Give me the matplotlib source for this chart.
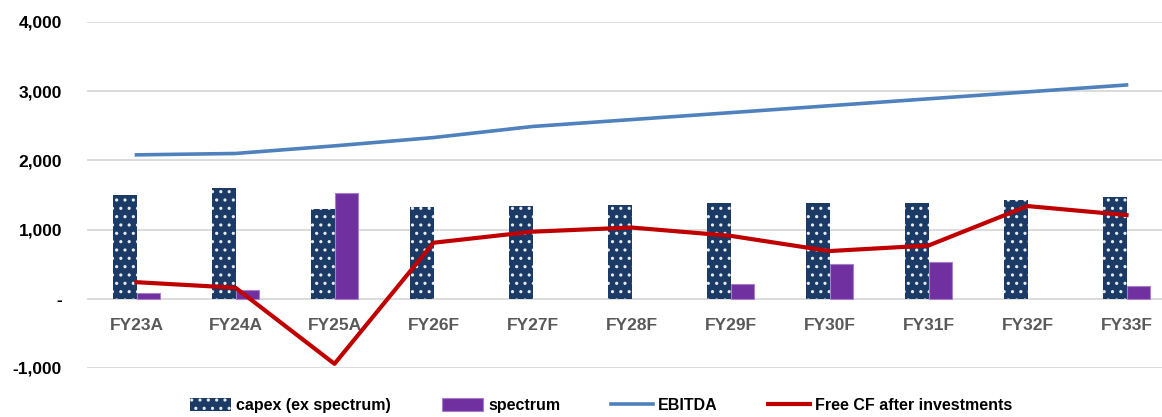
import numpy as np
import matplotlib
matplotlib.use("Agg")
import matplotlib.pyplot as plt
from matplotlib.ticker import FuncFormatter

plt.rcParams['font.family'] = ['Liberation Sans', 'DejaVu Sans']
plt.rcParams['font.weight'] = 'bold'
plt.rcParams['hatch.linewidth'] = 1.1

years = ['FY23A', 'FY24A', 'FY25A', 'FY26F', 'FY27F', 'FY28F',
         'FY29F', 'FY30F', 'FY31F', 'FY32F', 'FY33F']
capex = [1500, 1600, 1300, 1320, 1340, 1360, 1380, 1380, 1380, 1430, 1470]
spectrum = [90, 130, 1530, 0, 0, 0, 210, 500, 530, 0, 190]
ebitda = [2080, 2100, 2210, 2330, 2490, 2590, 2690, 2790, 2890, 2990, 3090]
fcf = [240, 160, -940, 810, 970, 1030, 910, 690, 770, 1340, 1210]

x = np.arange(len(years))
w = 0.235
spec = np.array(spectrum, dtype=float)
# zero spectrum years have no visible bar
spec_lw = np.where(spec > 0, 0.8, 0)

fig = plt.figure(figsize=(11.62, 4.17), dpi=100)
ax = fig.add_axes([87 / 1162, 1 - 368 / 417, 1 - 87 / 1162, (368 - 22) / 417])

ax.bar(x - w / 2, capex, w, color='#1B3A66', edgecolor='#E8ECF2', hatch='..',
       linewidth=0, label='capex (ex spectrum)', zorder=2)
ax.bar(x + w / 2, spec, w, color='#7030A0', edgecolor='#A57FC8',
       linewidth=spec_lw, label='spectrum', zorder=2)
ax.plot(x, ebitda, color='#4F81BD', lw=2.6, label='EBITDA', zorder=3)
ax.plot(x, fcf, color='#C00000', lw=3.0, label='Free CF after investments', zorder=4)

ax.set_ylim(-1000, 4000)
ax.set_xlim(-0.5, (1162 - 87) / 99 - 0.5)
ax.set_yticks([-1000, 0, 1000, 2000, 3000, 4000])
ax.yaxis.set_major_formatter(FuncFormatter(lambda v, p: '-' if v == 0 else f'{v:,.0f}'))
ax.grid(axis='y', color='#D9D9D9', lw=1.3, zorder=0)
ax.set_axisbelow(True)
for s in ax.spines.values():
    s.set_visible(False)
ax.spines['bottom'].set_position(('data', 0))
ax.tick_params(axis='y', length=0, pad=18, labelsize=12.5, labelcolor='black')
ax.tick_params(axis='x', length=0, pad=14, labelsize=12.5, labelcolor='#595959')
ax.set_xticks(x)
ax.set_xticklabels(years)

h, l = ax.get_legend_handles_labels()
order = [2, 3, 0, 1]
fig.legend([h[i] for i in order], [l[i] for i in order],
           loc='lower center', bbox_to_anchor=(0.517, -0.025), ncol=4, frameon=False,
           fontsize=11.5, handlelength=2.6, handleheight=0.9, columnspacing=3.2,
           handletextpad=0.3)

fig.savefig('out.png', dpi=100)
